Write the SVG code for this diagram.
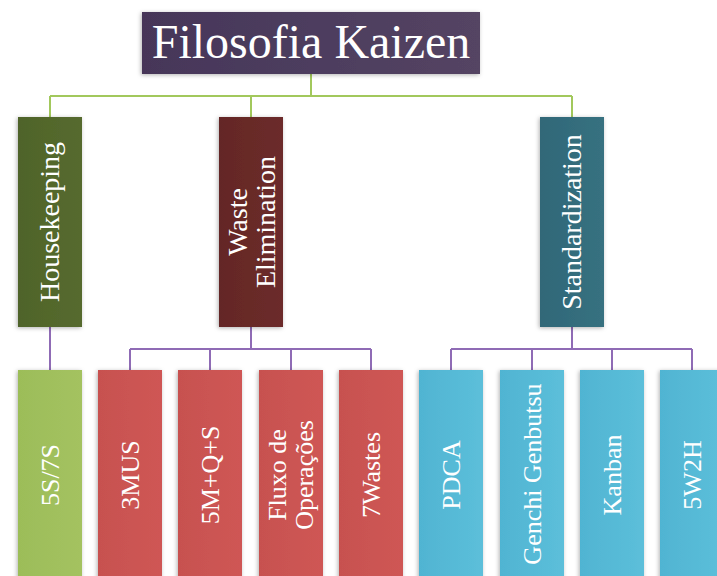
<svg xmlns="http://www.w3.org/2000/svg" width="717" height="576" viewBox="0 0 717 576">
<defs>
<style>
.t{font-family:"Liberation Serif","Times New Roman",serif;fill:#ffffff;text-anchor:middle}
.t2{font-size:28px}
.t3{font-size:26px}
.cg{stroke:#a2c85c;stroke-width:2;fill:none}
.cp{stroke:#8f6bb5;stroke-width:2;fill:none}
</style>
<filter id="sh" x="-20%" y="-10%" width="140%" height="120%">
<feDropShadow dx="-1" dy="1" stdDeviation="2" flood-color="#000" flood-opacity="0.3"/>
</filter>
<linearGradient id="gT" x1="0" y1="0" x2="1" y2="0"><stop offset="0" stop-color="#463659"/><stop offset="1" stop-color="#544463"/></linearGradient>
<linearGradient id="gG2" x1="0" y1="0" x2="1" y2="0"><stop offset="0" stop-color="#4f6429"/><stop offset="1" stop-color="#566a2f"/></linearGradient>
<linearGradient id="gR2" x1="0" y1="0" x2="1" y2="0"><stop offset="0" stop-color="#642726"/><stop offset="1" stop-color="#6c2c2a"/></linearGradient>
<linearGradient id="gB2" x1="0" y1="0" x2="1" y2="0"><stop offset="0" stop-color="#306878"/><stop offset="1" stop-color="#377180"/></linearGradient>
<linearGradient id="gG3" x1="0" y1="0" x2="1" y2="0"><stop offset="0" stop-color="#9cbd59"/><stop offset="1" stop-color="#a4c260"/></linearGradient>
<linearGradient id="gR3" x1="0" y1="0" x2="1" y2="0"><stop offset="0" stop-color="#c75150"/><stop offset="1" stop-color="#cf5754"/></linearGradient>
<linearGradient id="gB3" x1="0" y1="0" x2="1" y2="0"><stop offset="0" stop-color="#50b4d2"/><stop offset="1" stop-color="#5cbfda"/></linearGradient>
</defs>
<rect width="717" height="576" fill="#ffffff"/>

<g id="connectors">
<path class="cg" d="M311 74 V96 M50 96 H572 M50 96 V117 M251 96 V117 M572 96 V117"/>
<path class="cp" d="M50 327 V370"/>
<path class="cp" d="M251 327 V349 M130 349 H371 M130 349 V370 M210 349 V370 M291 349 V370 M371 349 V370"/>
<path class="cp" d="M572 327 V349 M451 349 H692 M451 349 V370 M532 349 V370 M612 349 V370 M692 349 V370"/>
</g>

<g id="title">
<rect x="142" y="12" width="338" height="62" fill="url(#gT)" filter="url(#sh)"/>
<text class="t" x="311" y="58" font-size="48">Filosofia Kaizen</text>
</g>

<g id="housekeeping">
<rect x="18" y="117" width="64" height="210" fill="url(#gG2)" filter="url(#sh)"/>
<text class="t t2" transform="translate(50,222) rotate(-90)" x="0" y="9">Housekeeping</text>
</g>
<g id="waste-elimination">
<rect x="219" y="117" width="64" height="210" fill="url(#gR2)" filter="url(#sh)"/>
<text class="t t2" transform="translate(251,222) rotate(-90)"><tspan x="0" y="-4">Waste</tspan><tspan x="0" y="24">Elimination</tspan></text>
</g>
<g id="standardization">
<rect x="540" y="117" width="64" height="210" fill="url(#gB2)" filter="url(#sh)"/>
<text class="t t2" transform="translate(572,222) rotate(-90)" x="0" y="9">Standardization</text>
</g>

<g id="n-5s7s">
<rect x="18" y="370" width="64" height="212" fill="url(#gG3)" filter="url(#sh)"/>
<text class="t t3" transform="translate(50,475) rotate(-90)" x="0" y="9">5S/7S</text>
</g>
<g id="n-3mus">
<rect x="98" y="370" width="64" height="212" fill="url(#gR3)" filter="url(#sh)"/>
<text class="t t3" transform="translate(130,475) rotate(-90)" x="0" y="9">3MUS</text>
</g>
<g id="n-5mqs">
<rect x="178" y="370" width="64" height="212" fill="url(#gR3)" filter="url(#sh)"/>
<text class="t t3" transform="translate(210,475) rotate(-90)" x="0" y="9">5M+Q+S</text>
</g>
<g id="n-fluxo">
<rect x="259" y="370" width="64" height="212" fill="url(#gR3)" filter="url(#sh)"/>
<text class="t t3" transform="translate(291,475) rotate(-90)"><tspan x="0" y="-5">Fluxo de</tspan><tspan x="0" y="22">Operações</tspan></text>
</g>
<g id="n-7wastes">
<rect x="339" y="370" width="64" height="212" fill="url(#gR3)" filter="url(#sh)"/>
<text class="t t3" transform="translate(371,475) rotate(-90)" x="0" y="9">7Wastes</text>
</g>
<g id="n-pdca">
<rect x="419" y="370" width="64" height="212" fill="url(#gB3)" filter="url(#sh)"/>
<text class="t t3" transform="translate(451,475) rotate(-90)" x="0" y="9">PDCA</text>
</g>
<g id="n-genchi">
<rect x="500" y="370" width="64" height="212" fill="url(#gB3)" filter="url(#sh)"/>
<text class="t t3" transform="translate(532,474) rotate(-90)" x="0" y="9">Genchi Genbutsu</text>
</g>
<g id="n-kanban">
<rect x="580" y="370" width="64" height="212" fill="url(#gB3)" filter="url(#sh)"/>
<text class="t t3" transform="translate(612,475) rotate(-90)" x="0" y="9">Kanban</text>
</g>
<g id="n-5w2h">
<rect x="660" y="370" width="64" height="212" fill="url(#gB3)" filter="url(#sh)"/>
<text class="t t3" transform="translate(692,475) rotate(-90)" x="0" y="9">5W2H</text>
</g>
</svg>
